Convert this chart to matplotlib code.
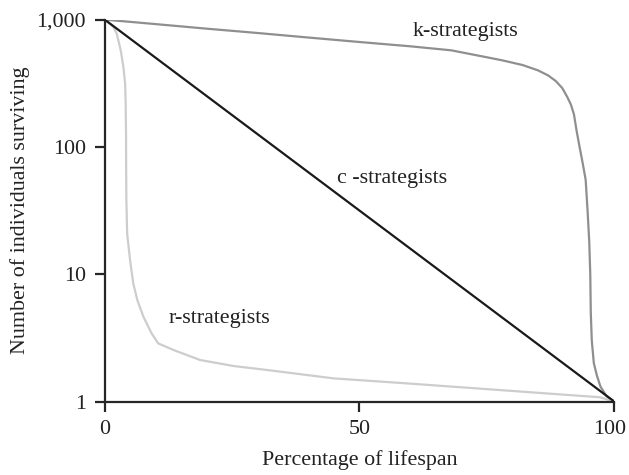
import matplotlib.pyplot as plt
import matplotlib.transforms as mtransforms

plt.rcParams['font.family'] = ['Liberation Serif', 'DejaVu Serif']

# survivorship curves
k_x = [0, 10, 20, 30, 40, 50, 60, 68, 75, 78, 82, 85, 87, 88.5, 89.8, 90.8, 91.5, 92.1, 92.6, 93.2,
       93.8, 94.4, 94.8, 95.1, 95.3, 95.4, 95.6, 96.0, 96.6, 97.3, 98.5, 100]
k_y = [1000, 922, 849, 785, 723, 667, 617, 574, 506, 479, 440, 400, 365, 330, 290, 246, 215, 180, 135, 100,
       75, 55, 30, 18, 10, 5.0, 3.0, 2.0, 1.6, 1.31, 1.1, 1]

c_x = [0, 100]
c_y = [1000, 1]

r_x = [0, 1.69, 2.35, 3.14, 3.66, 4.0, 4.1, 4.18, 4.2, 4.25, 4.4, 4.97, 5.6, 6.4, 7.6, 9.2, 10.5, 13.5,
       18.7, 25.3, 31.8, 44.9, 58.0, 77.6, 97.2, 100]
r_y = [1000, 875, 777, 574, 425, 315, 233, 127, 69.7, 38.2, 20.9, 12.9, 8.47, 6.26, 4.63, 3.43, 2.86, 2.54,
       2.12, 1.90, 1.77, 1.52, 1.40, 1.23, 1.08, 1]

x_ticks = [0, 50, 100]
y_ticks = [1, 10, 100, 1000]
y_ticklabels = ['1', '10', '100', '1,000']

fig = plt.figure(figsize=(6.29, 4.75), dpi=100)
ax = fig.add_axes([0.1665, 0.1547, 0.81, 0.804])

ax.plot(k_x, k_y, color='#8f8f8f', lw=1.6, solid_joinstyle='round')
ax.plot(r_x, r_y, color='#cdcdcd', lw=1.6, solid_joinstyle='round')
ax.plot(c_x, c_y, color='#1a1a1a', lw=1.6)

ax.set_yscale('log')
ax.set_xlim(0, 100)
ax.set_ylim(1, 1000)
ax.set_xticks(x_ticks)
ax.set_yticks(y_ticks)
ax.set_yticklabels(y_ticklabels)
ax.minorticks_off()

for s in ['top', 'right']:
    ax.spines[s].set_visible(False)
for s in ['left', 'bottom']:
    ax.spines[s].set_linewidth(1.6)
    ax.spines[s].set_color('#262626')
ax.tick_params(length=7.5, width=1.6, color='#262626', pad=6, labelsize=15.8, labelcolor='#222222')

# nudge the last x label so it stays inside the figure
last = ax.get_xticklabels()[-1]
last.set_transform(last.get_transform() + mtransforms.ScaledTranslation(-3 / 72, 0, fig.dpi_scale_trans))

ax.set_xlabel('Percentage of lifespan', fontsize=15.8, color='#222222', labelpad=8)
ax.set_ylabel('Number of individuals surviving', fontsize=15.8, color='#222222', labelpad=5)

ax.text(70.8, 800, 'k-strategists', fontsize=15.8, color='#222222', ha='center', va='center')
ax.text(56.3, 56.8, 'c -strategists', fontsize=15.8, color='#222222', ha='center', va='center')
ax.text(22.6, 4.5, 'r-strategists', fontsize=15.8, color='#222222', ha='center', va='center')

fig.savefig('out.png', dpi=100)
